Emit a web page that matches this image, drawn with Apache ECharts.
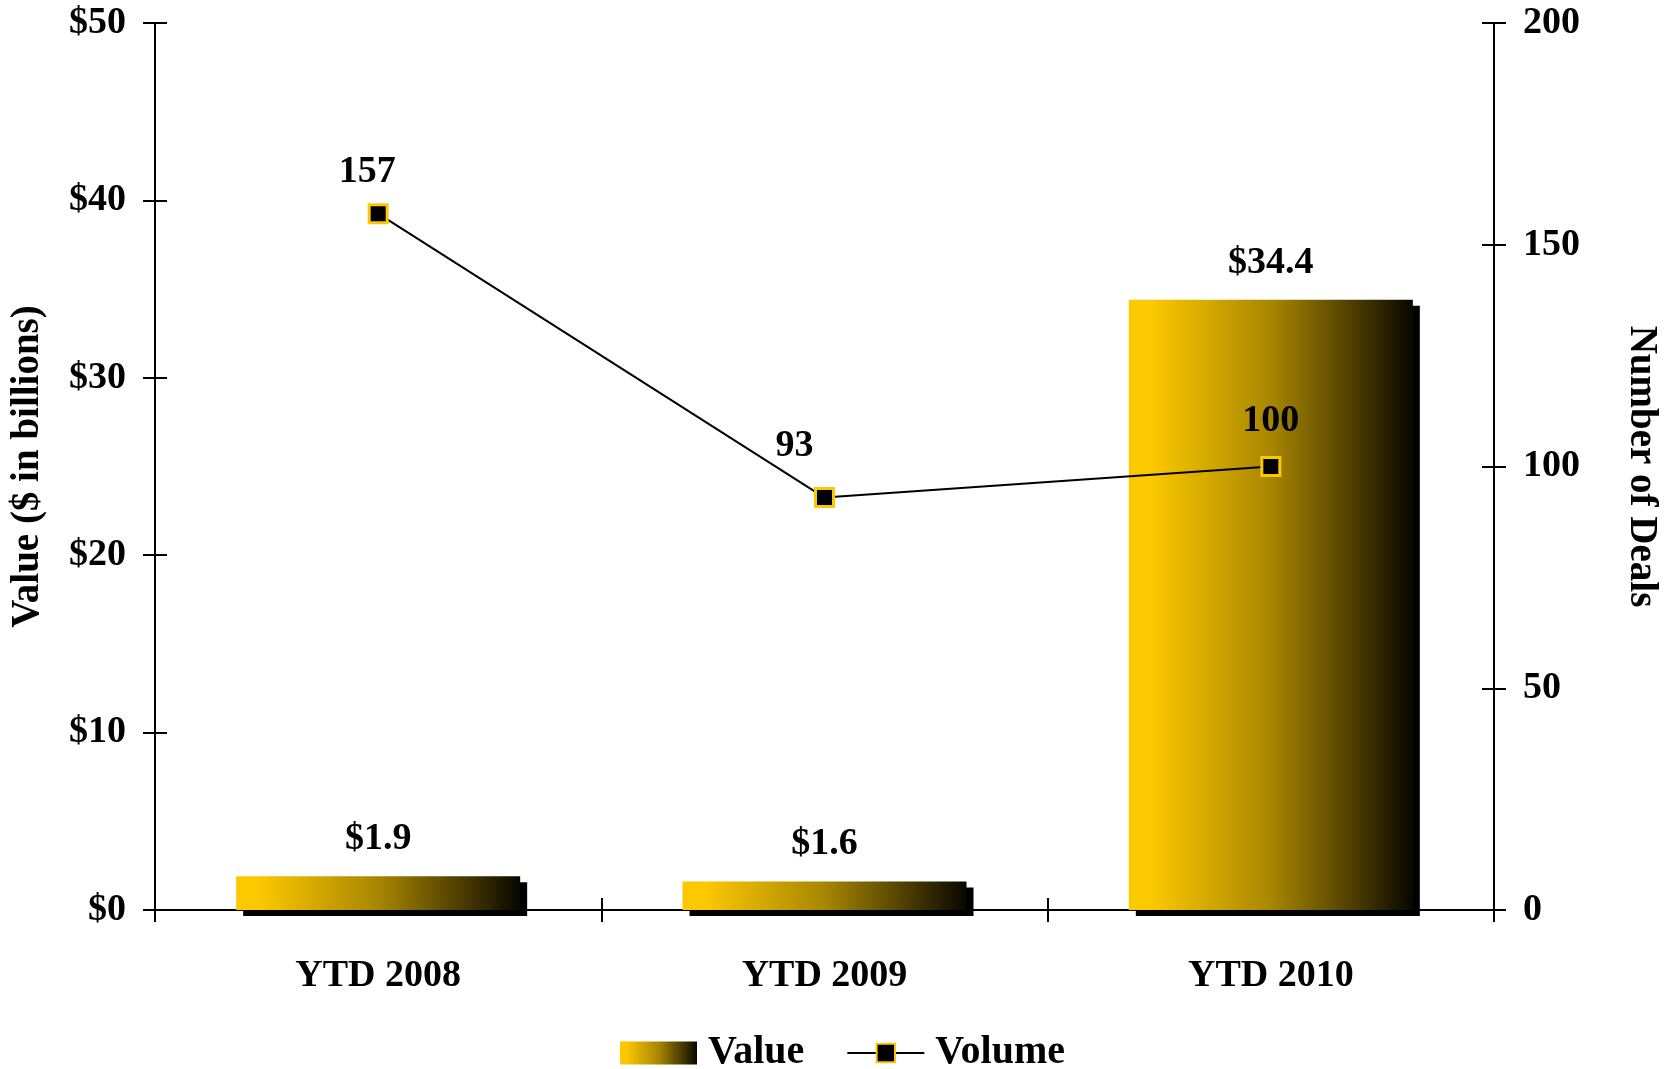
<!DOCTYPE html>
<html>
<head>
<meta charset="utf-8">
<script src="https://cdn.jsdelivr.net/npm/echarts@6/dist/echarts.min.js"></script>
<style>
  html, body { margin: 0; padding: 0; background: #fff; }
  #chart { width: 1669px; height: 1069px; }
</style>
</head>
<body>
<div id="chart"></div>
<script>
const categories = ['YTD 2008', 'YTD 2009', 'YTD 2010']
const valueData = [1.9, 1.6, 34.4]
const volumeData = [157, 93, 100]
const volumeLabelOffsets = [[-11, 0], [-30, -10], [0, -4]]

const FONT = '"Liberation Serif", "Times New Roman", serif'
const txt = { color: '#000', fontFamily: FONT, fontWeight: 'bold', fontSize: 38 }

const barGradient = new echarts.graphic.LinearGradient(0, 0, 1, 0, [
  { offset: 0, color: '#fcc800' },
  { offset: 0.08, color: '#fcc800' },
  { offset: 0.5, color: '#a88600' },
  { offset: 0.85, color: '#3a2e00' },
  { offset: 1, color: '#080600' }
])

const chart = echarts.init(document.getElementById('chart'))

const axisLine = { show: true, lineStyle: { color: '#000', width: 2 } }
const tickOut = { show: true, length: 12, lineStyle: { color: '#000', width: 2 } }
const tickIn = { show: true, inside: true, length: 12, lineStyle: { color: '#000', width: 2 } }

chart.setOption({
  animation: false,
  backgroundColor: '#fff',
  grid: { left: 153, right: 169, top: 23, bottom: 159 },
  legend: {
    left: 620,
    top: 1033,
    padding: 0,
    itemWidth: 77,
    itemHeight: 23,
    itemGap: 42,
    textStyle: { ...txt, fontSize: 40, padding: [0, 0, 0, 6] },
    data: [{ name: 'Value', icon: 'rect' }, 'Volume']
  },
  xAxis: [
    {
      type: 'category',
      data: categories,
      position: 'bottom',
      axisLine: axisLine,
      axisTick: tickOut,
      axisLabel: { ...txt, margin: 47 }
    },
    {
      type: 'category',
      data: categories,
      position: 'bottom',
      axisLine: { show: false },
      axisTick: tickIn,
      axisLabel: { show: false }
    }
  ],
  yAxis: [
    {
      type: 'value',
      min: 0,
      max: 50,
      interval: 10,
      position: 'left',
      name: 'Value ($ in billions)',
      nameLocation: 'middle',
      nameRotate: 90,
      nameGap: 108,
      nameTextStyle: { ...txt, fontSize: 39 },
      axisLine: axisLine,
      axisTick: tickOut,
      splitLine: { show: false },
      axisLabel: { ...txt, margin: 29, formatter: v => '$' + v }
    },
    {
      type: 'value',
      min: 0,
      max: 200,
      interval: 50,
      position: 'right',
      name: 'Number of Deals',
      nameLocation: 'middle',
      nameRotate: -90,
      nameGap: 128,
      nameTextStyle: { ...txt, fontSize: 39 },
      axisLine: axisLine,
      axisTick: tickOut,
      splitLine: { show: false },
      axisLabel: { ...txt, margin: 29 }
    },
    {
      type: 'value',
      min: 0,
      max: 50,
      interval: 10,
      position: 'left',
      axisLine: { show: false },
      axisTick: tickIn,
      splitLine: { show: false },
      axisLabel: { show: false }
    },
    {
      type: 'value',
      min: 0,
      max: 200,
      interval: 50,
      position: 'right',
      axisLine: { show: false },
      axisTick: tickIn,
      splitLine: { show: false },
      axisLabel: { show: false }
    }
  ],
  series: [
    {
      name: 'Value',
      type: 'bar',
      data: valueData,
      barWidth: 284,
      itemStyle: {
        color: barGradient,
        shadowColor: '#000',
        shadowBlur: 0,
        shadowOffsetX: 7,
        shadowOffsetY: 6
      },
      label: {
        show: true,
        position: 'top',
        distance: 18,
        ...txt,
        formatter: p => '$' + p.value.toFixed(1)
      },
      z: 2
    },
    {
      name: 'Volume',
      type: 'line',
      yAxisIndex: 1,
      data: volumeData.map((v, i) => ({
        value: v,
        label: { offset: volumeLabelOffsets[i] }
      })),
      symbol: 'rect',
      symbolSize: 18,
      lineStyle: { color: '#000', width: 2 },
      itemStyle: { color: '#000', borderColor: '#fcc800', borderWidth: 3 },
      label: {
        show: true,
        position: 'top',
        distance: 12,
        ...txt
      },
      z: 5
    }
  ]
})
</script>
</body>
</html>
